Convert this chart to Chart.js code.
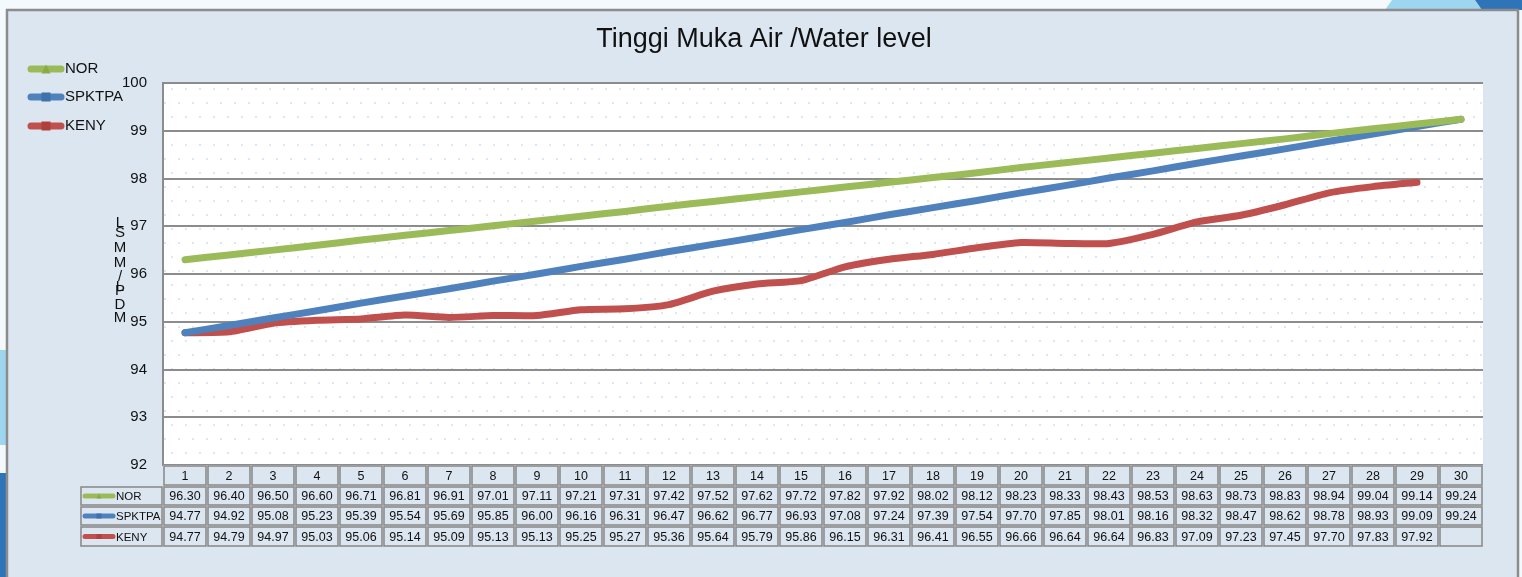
<!DOCTYPE html>
<html>
<head>
<meta charset="utf-8">
<script src="https://cdn.jsdelivr.net/npm/chart.js@4.4.1/dist/chart.umd.min.js"></script>
<style>
  html, body { margin: 0; padding: 0; background: #f4f9fd; }
  #wl { display: block; }
</style>
</head>
<body>
<canvas id="wl" width="1522" height="577"></canvas>
<script>
const days = ['1','2','3','4','5','6','7','8','9','10','11','12','13','14','15','16','17','18','19','20','21','22','23','24','25','26','27','28','29','30'];
const nor = [96.30, 96.40, 96.50, 96.60, 96.71, 96.81, 96.91, 97.01, 97.11, 97.21, 97.31, 97.42, 97.52, 97.62, 97.72, 97.82, 97.92, 98.02, 98.12, 98.23, 98.33, 98.43, 98.53, 98.63, 98.73, 98.83, 98.94, 99.04, 99.14, 99.24];
const spktpa = [94.77, 94.92, 95.08, 95.23, 95.39, 95.54, 95.69, 95.85, 96.00, 96.16, 96.31, 96.47, 96.62, 96.77, 96.93, 97.08, 97.24, 97.39, 97.54, 97.70, 97.85, 98.01, 98.16, 98.32, 98.47, 98.62, 98.78, 98.93, 99.09, 99.24];
const keny = [94.77, 94.79, 94.97, 95.03, 95.06, 95.14, 95.09, 95.13, 95.13, 95.25, 95.27, 95.36, 95.64, 95.79, 95.86, 96.15, 96.31, 96.41, 96.55, 96.66, 96.64, 96.64, 96.83, 97.09, 97.23, 97.45, 97.70, 97.83, 97.92, null];
const seriesNames = ['NOR', 'SPKTPA', 'KENY'];
const chartTitle = 'Tinggi Muka Air /Water level';
const yTitleChars = ['L', 'S', 'M', 'M', '/', 'L', 'P', 'D', 'M'];

const colors = ['#9bbb59', '#4f81bd', '#c0504d'];
const markColors = ['#8aab48', '#3f71ad', '#b0403d'];
const markShapes = ['triangle', 'diamond', 'square'];
const GRAY = '#8c8c8c';
const PANEL = '#dce6f1';
const FONT = '"Liberation Sans", Arial, sans-serif';

function dotPattern(ctx) {
  const t = document.createElement('canvas');
  t.width = 14; t.height = 28;
  const c = t.getContext('2d');
  c.fillStyle = '#ffffff';
  c.fillRect(0, 0, 14, 28);
  c.fillStyle = '#dde7f3';
  c.fillRect(3, 4, 2, 2);
  c.fillRect(10, 18, 2, 2);
  return ctx.createPattern(t, 'repeat');
}

function drawMarker(ctx, shape, x, y, s, color) {
  ctx.fillStyle = color;
  ctx.beginPath();
  if (shape === 'triangle') {
    ctx.moveTo(x, y - s / 2);
    ctx.lineTo(x + s / 2, y + s / 2);
    ctx.lineTo(x - s / 2, y + s / 2);
  } else {
    ctx.rect(x - s / 2, y - s / 2, s, s);
  }
  ctx.closePath();
  ctx.fill();
}

function legendKey(ctx, i, x0, x1, y, lw, ms) {
  ctx.save();
  ctx.strokeStyle = colors[i];
  ctx.lineWidth = lw;
  ctx.lineCap = 'round';
  ctx.beginPath();
  ctx.moveTo(x0, y);
  ctx.lineTo(x1, y);
  ctx.stroke();
  drawMarker(ctx, markShapes[i], (x0 + x1) / 2, y, ms, markColors[i]);
  ctx.restore();
}

const backdrop = {
  id: 'backdrop',
  beforeDraw(chart) {
    const ctx = chart.ctx;
    const a = chart.chartArea;
    ctx.save();
    ctx.fillStyle = '#f4f9fd';
    ctx.fillRect(0, 0, chart.width, chart.height);
    // corner decorations
    ctx.fillStyle = '#9ed6f0';
    ctx.beginPath();
    ctx.moveTo(1392, 0); ctx.lineTo(1475, 0); ctx.lineTo(1482, 10); ctx.lineTo(1385, 10);
    ctx.fill();
    ctx.fillStyle = '#2f74b8';
    ctx.beginPath();
    ctx.moveTo(1475, 0); ctx.lineTo(1522, 0); ctx.lineTo(1522, 10); ctx.lineTo(1482, 10);
    ctx.fill();
    ctx.fillStyle = '#9ed6f0';
    ctx.fillRect(0, 350, 7, 95);
    ctx.fillStyle = '#2f74b8';
    ctx.fillRect(0, 473, 7, 104);
    // frame
    ctx.fillStyle = PANEL;
    ctx.fillRect(7, 10, 1511, 600);
    ctx.strokeStyle = GRAY;
    ctx.lineWidth = 2.5;
    ctx.strokeRect(7, 10, 1511, 600);
    // plot area
    ctx.fillStyle = dotPattern(ctx);
    ctx.fillRect(a.left, a.top, a.right - a.left, a.bottom - a.top);
    ctx.restore();
  },
  afterDraw(chart) {
    const ctx = chart.ctx;
    const xs = chart.scales.x;
    const a = chart.chartArea;
    ctx.save();
    // title
    ctx.fillStyle = '#111';
    ctx.font = '27px ' + FONT;
    ctx.textAlign = 'center';
    ctx.textBaseline = 'middle';
    ctx.fillText(chartTitle, 764, 40);

    // legend (top left)
    ctx.font = '15px ' + FONT;
    ctx.textAlign = 'left';
    [69, 97, 126].forEach((y, i) => {
      legendKey(ctx, i, 31, 61, y, 7, 9);
      ctx.fillStyle = '#111';
      ctx.fillText(seriesNames[i], 65, y);
    });

    // vertical stacked axis title
    ctx.font = '15px ' + FONT;
    ctx.textAlign = 'center';
    const ty = [223, 233, 248, 263, 277, 287, 291, 305, 318];
    yTitleChars.forEach((ch, i) => ctx.fillText(ch, 120, ty[i]));

    // data table
    const rows = [nor, spktpa, keny];
    const rowTop = [465, 486, 506, 526];
    const rowH = [21, 20, 20, 21];
    const half = (xs.getPixelForValue(1) - xs.getPixelForValue(0)) / 2;
    function cell(x, y, w, h) {
      ctx.fillStyle = PANEL;
      ctx.fillRect(x, y, w, h);
      ctx.strokeStyle = GRAY;
      ctx.lineWidth = 1.6;
      ctx.strokeRect(x + 1, y + 1, w - 2, h - 2);
    }
    ctx.font = '12.5px ' + FONT;
    ctx.textAlign = 'center';
    days.forEach((d, i) => {
      const cx = xs.getPixelForValue(i);
      cell(cx - half, rowTop[0], half * 2, rowH[0]);
      ctx.fillStyle = '#111';
      ctx.fillText(d, cx, rowTop[0] + rowH[0] / 2 + 1);
      rows.forEach((r, k) => {
        const y = rowTop[k + 1];
        cell(cx - half, y, half * 2, rowH[k + 1]);
        if (r[i] !== null) {
          ctx.fillStyle = '#111';
          ctx.fillText(r[i].toFixed(2), cx, y + rowH[k + 1] / 2 + 1);
        }
      });
    });
    rows.forEach((r, k) => {
      const y = rowTop[k + 1];
      cell(80, y, a.left - 80, rowH[k + 1]);
      legendKey(ctx, k, 85, 113, y + rowH[k + 1] / 2, 5, 5);
      ctx.fillStyle = '#111';
      ctx.textAlign = 'left';
      ctx.font = '11.5px ' + FONT;
      ctx.fillText(seriesNames[k], 116, y + rowH[k + 1] / 2 + 1);
      ctx.textAlign = 'center';
    });
    ctx.restore();
  }
};

new Chart(document.getElementById('wl'), {
  type: 'line',
  data: {
    labels: days,
    datasets: [
      { label: seriesNames[0], data: nor, borderColor: colors[0] },
      { label: seriesNames[1], data: spktpa, borderColor: colors[1] },
      { label: seriesNames[2], data: keny, borderColor: colors[2] }
    ].map(ds => Object.assign(ds, {
      borderWidth: 7,
      pointRadius: 0,
      tension: 0.2,
      borderCapStyle: 'round',
      borderJoinStyle: 'round',
      fill: false
    }))
  },
  options: {
    responsive: false,
    animation: false,
    devicePixelRatio: 1,
    layout: { padding: { left: 0, top: 83, right: 39, bottom: 112 } },
    plugins: { legend: { display: false }, title: { display: false }, tooltip: { enabled: false } },
    scales: {
      x: { display: false, offset: true },
      y: {
        min: 92,
        max: 100,
        afterFit(scale) { scale.width = 163; },
        ticks: { stepSize: 1, padding: 16, color: '#111', font: { family: FONT, size: 15 } },
        grid: { color: GRAY, lineWidth: 2, drawTicks: false },
        border: { display: true, color: GRAY, width: 2 }
      }
    }
  },
  plugins: [backdrop]
});
</script>
</body>
</html>
